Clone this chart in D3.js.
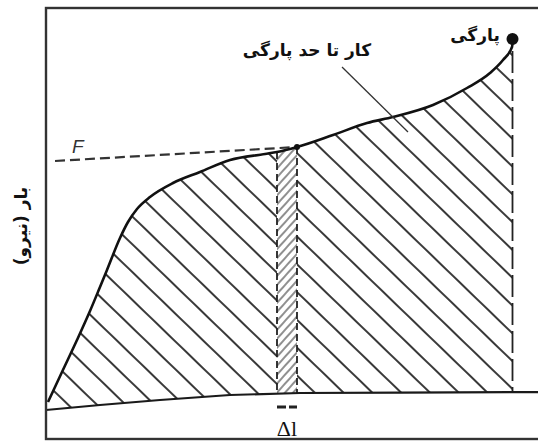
<!DOCTYPE html>
<html>
<head>
<meta charset="utf-8">
<script src="https://cdn.jsdelivr.net/npm/d3@7"></script>
<style>
  html, body { margin: 0; padding: 0; background: #fff; }
  svg { display: block; }
  .fa { font-family: "DejaVu Sans", sans-serif; font-weight: bold; fill: #111; }
</style>
</head>
<body>
<div id="chart"></div>
<script>
// load / extension curve (extension 0-100, load 0-107.75)
var curveExt  = [0.4, 3.2, 6.2, 8.8, 10.8, 12.2, 14.8, 16.4, 18.2, 20.8, 25.4, 30.8, 36.8, 43.8, 46.2, 50.2, 57.4, 64.2, 69.4, 77.4, 84.2, 88.8, 91.4, 93.2, 93.4];
var curveLoad = [9.25, 16.75, 24.75, 32, 38, 42.25, 50.25, 54.25, 57.5, 60.5, 64, 66.75, 69.75, 71.25, 71.75, 73, 76, 79, 80.5, 83.5, 87.75, 91.5, 94.75, 98, 100];

// the slightly tilted zero line
var baseExt  = [0, 10.8, 22.8, 36.8, 50.8, 70.8, 100];
var baseLoad = [7.25, 8.5, 9.75, 11, 11.5, 11.6, 11.75];

// dashed F line
var fExt  = [1.8, 50.2];
var fLoad = [69.5, 73];

// strip width (delta l) and fracture point
var stripExt = [46.2, 50.2];
var fractureExt = 93.3;
var fractureLoad = 100;

var labels = {
  yAxis: "بار (نیرو)",
  work: "کار تا حد پارگی",
  fracture: "پارگی",
  force: "F",
  delta: "Δl"
};

var margin = { top: 8, right: 0, bottom: 4, left: 46 };
var width = 500, height = 431;

var x = d3.scaleLinear().domain([0, 100]).range([0, width]);
var y = d3.scaleLinear().domain([0, 107.75]).range([height, 0]);

var curve = curveExt.map(function (d, i) { return { e: d, l: curveLoad[i] }; });
var base = baseExt.map(function (d, i) { return { e: d, l: baseLoad[i] }; });
var fLine = fExt.map(function (d, i) { return { e: d, l: fLoad[i] }; });

// y of a polyline at any extension
function valueAt(pts, e) {
  for (var i = 1; i < pts.length; i++) {
    if (e <= pts[i].e) {
      var a = pts[i - 1], b = pts[i];
      return a.l + (b.l - a.l) * (e - a.e) / (b.e - a.e);
    }
  }
  return pts[pts.length - 1].l;
}
function baseAt(e) { return valueAt(base, e); }
function curveAt(e) { return valueAt(curve, e); }

var svg = d3.select("#chart").append("svg")
  .attr("width", 538)
  .attr("height", 443);

var defs = svg.append("defs");

defs.append("pattern")
  .attr("id", "hatch")
  .attr("patternUnits", "userSpaceOnUse")
  .attr("width", 20).attr("height", 20)
  .attr("patternTransform", "rotate(44)")
  .append("line")
  .attr("x1", 0).attr("y1", 10).attr("x2", 20).attr("y2", 10)
  .attr("stroke", "#222").attr("stroke-width", 1.8);

defs.append("pattern")
  .attr("id", "hatchDense")
  .attr("patternUnits", "userSpaceOnUse")
  .attr("width", 6).attr("height", 6)
  .attr("patternTransform", "rotate(-48)")
  .append("line")
  .attr("x1", 0).attr("y1", 3).attr("x2", 6).attr("y2", 3)
  .attr("stroke", "#444").attr("stroke-width", 1.2);

var g = svg.append("g")
  .attr("transform", "translate(" + margin.left + "," + margin.top + ")");

var line = d3.line()
  .x(function (d) { return x(d.e); })
  .y(function (d) { return y(d.l); })
  .curve(d3.curveMonotoneX);

var straight = d3.line()
  .x(function (d) { return x(d.e); })
  .y(function (d) { return y(d.l); });

// hatched work area between curve and zero line
var areaPts = curve.slice(0, curve.length - 1).map(function (d) { return [d.e, d.l]; });
areaPts.push([fractureExt, curveAt(fractureExt)]);
areaPts.push([fractureExt, baseAt(fractureExt)]);
base.slice().reverse().forEach(function (d) {
  if (d.e < fractureExt && d.e > curve[0].e) areaPts.push([d.e, d.l]);
});
areaPts.push([curve[0].e, baseAt(curve[0].e)]);

var areaLine = d3.line()
  .x(function (d) { return x(d[0]); })
  .y(function (d) { return y(d[1]); });

defs.append("clipPath").attr("id", "workClip")
  .append("path")
  .attr("d", areaLine(areaPts) + "Z");

g.append("path")
  .attr("d", areaLine(areaPts) + "Z")
  .attr("fill", "url(#hatch)");

// the narrow delta-l strip
var strip = g.append("g").attr("clip-path", "url(#workClip)");
strip.append("rect")
  .attr("x", x(stripExt[0])).attr("y", 0)
  .attr("width", x(stripExt[1]) - x(stripExt[0]))
  .attr("height", height)
  .attr("fill", "#fff");
strip.append("rect")
  .attr("x", x(stripExt[0])).attr("y", 0)
  .attr("width", x(stripExt[1]) - x(stripExt[0]))
  .attr("height", height)
  .attr("fill", "url(#hatchDense)");

// vertical dashed lines
stripExt.forEach(function (e) {
  g.append("line")
    .attr("x1", x(e)).attr("x2", x(e))
    .attr("y1", y(curveAt(e))).attr("y2", y(baseAt(e)))
    .attr("stroke", "#222").attr("stroke-width", 1.8)
    .attr("stroke-dasharray", "7,4");
});
g.append("line")
  .attr("x1", x(fractureExt)).attr("x2", x(fractureExt))
  .attr("y1", y(fractureLoad) + 12).attr("y2", y(baseAt(fractureExt)))
  .attr("stroke", "#222").attr("stroke-width", 1.8)
  .attr("stroke-dasharray", "22,6");

// zero line
g.append("path")
  .datum(base)
  .attr("d", straight)
  .attr("fill", "none")
  .attr("stroke", "#1a1a1a")
  .attr("stroke-width", 2.2);

// F dashed line
g.append("path")
  .datum(fLine)
  .attr("d", straight)
  .attr("fill", "none")
  .attr("stroke", "#333")
  .attr("stroke-width", 2.2)
  .attr("stroke-dasharray", "10,5");

// load curve
g.append("path")
  .datum(curve)
  .attr("d", line)
  .attr("fill", "none")
  .attr("stroke", "#111")
  .attr("stroke-width", 2.6);

g.append("circle")
  .attr("cx", x(fExt[1])).attr("cy", y(fLoad[1]))
  .attr("r", 3).attr("fill", "#111");

g.append("circle")
  .attr("cx", x(fractureExt)).attr("cy", y(fractureLoad))
  .attr("r", 6).attr("fill", "#111");

// leader from the label into the area
g.append("line")
  .attr("x1", x(59.2)).attr("y1", y(93))
  .attr("x2", x(72.4)).attr("y2", y(76.75))
  .attr("stroke", "#333").attr("stroke-width", 1.3);

// delta l marker below the zero line
g.append("line")
  .attr("x1", x(stripExt[0])).attr("x2", x(stripExt[1]))
  .attr("y1", y(8)).attr("y2", y(8))
  .attr("stroke", "#222").attr("stroke-width", 3)
  .attr("stroke-dasharray", "9,3");

// frame
g.append("rect")
  .attr("x", 0).attr("y", 0)
  .attr("width", width).attr("height", height)
  .attr("fill", "none")
  .attr("stroke", "#333")
  .attr("stroke-width", 2.4);

// texts
svg.append("text")
  .attr("class", "fa")
  .attr("transform", "translate(27,226) rotate(-90)")
  .attr("text-anchor", "middle")
  .attr("direction", "rtl")
  .style("font-size", "17px")
  .text(labels.yAxis);

svg.append("text")
  .attr("class", "fa")
  .attr("x", 307).attr("y", 56)
  .attr("text-anchor", "middle")
  .attr("direction", "rtl")
  .style("font-size", "17px")
  .text(labels.work);

svg.append("text")
  .attr("class", "fa")
  .attr("x", 475).attr("y", 41)
  .attr("text-anchor", "middle")
  .attr("direction", "rtl")
  .style("font-size", "17px")
  .text(labels.fracture);

g.append("text")
  .attr("x", x(fExt[0]) + 17).attr("y", y(fLoad[0]) - 8)
  .attr("font-family", "Liberation Sans, sans-serif")
  .attr("font-style", "italic")
  .attr("font-size", 19)
  .attr("fill", "#333")
  .text(labels.force);

g.append("text")
  .attr("x", x((stripExt[0] + stripExt[1]) / 2)).attr("y", height - 3)
  .attr("text-anchor", "middle")
  .attr("font-family", "Liberation Serif, serif")
  .attr("font-size", 22)
  .attr("fill", "#111")
  .text(labels.delta);
</script>
</body>
</html>
